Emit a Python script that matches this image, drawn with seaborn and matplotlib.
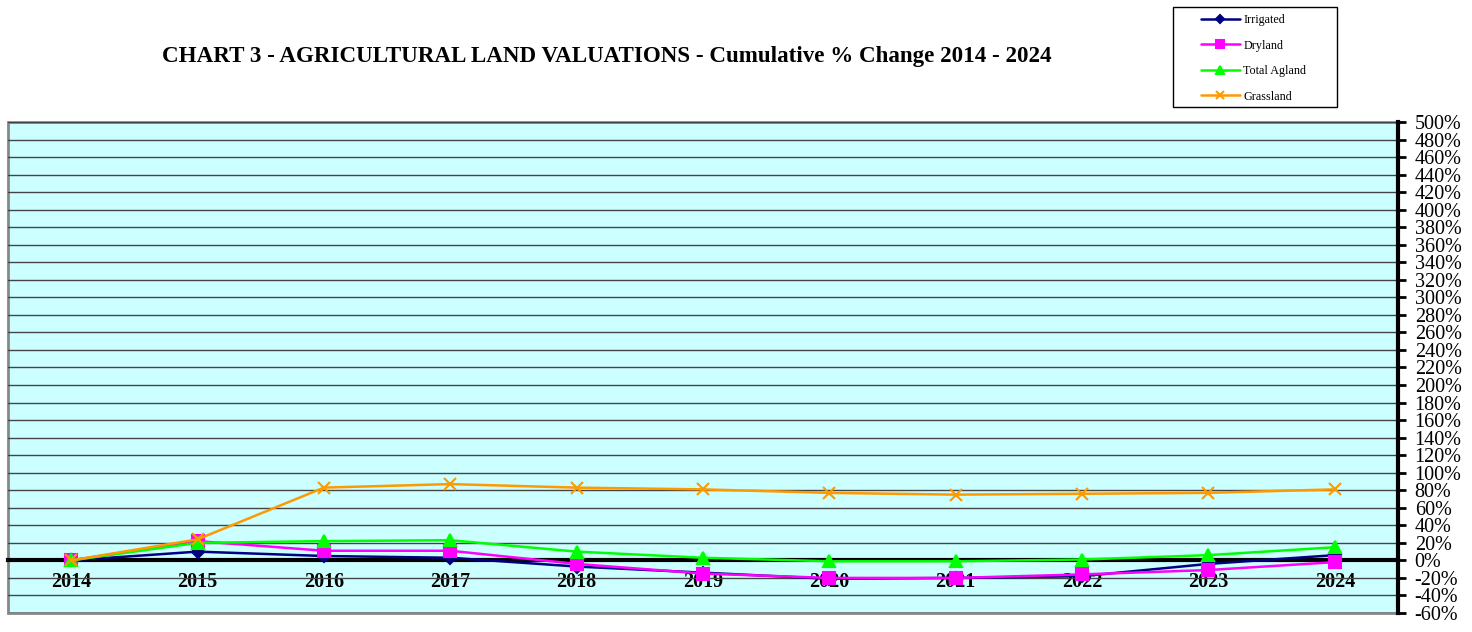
import matplotlib
matplotlib.use("Agg")
import matplotlib.pyplot as plt
import matplotlib.ticker as mticker
from matplotlib.patches import Rectangle
import seaborn as sns
import numpy as np
import pandas as pd

years = ["2014", "2015", "2016", "2017", "2018", "2019", "2020", "2021", "2022", "2023", "2024"]
irrigated = [0, 10, 5, 3, -7, -14, -21, -20, -18, -4, 6]
dryland = [0, 22, 11, 11, -4, -15, -20, -20, -16, -11, -2]
total_agland = [0, 20, 22, 23, 10, 3, -1, -1, 1, 6, 15]
grassland = [0, 24, 83, 87, 83, 81, 77, 75, 76, 77, 81]

series = {
    "Irrigated": irrigated,
    "Dryland": dryland,
    "Total Agland": total_agland,
    "Grassland": grassland,
}
colors = {"Irrigated": "#000080", "Dryland": "#FF00FF",
          "Total Agland": "#00FF00", "Grassland": "#FF9900"}
markers = {"Irrigated": "D", "Dryland": "s", "Total Agland": "^", "Grassland": "x"}
msizes = {"Irrigated": 6, "Dryland": 8, "Total Agland": 8, "Grassland": 8}

rows = []
for name, vals in series.items():
    for i, v in enumerate(vals):
        rows.append({"idx": i, "year": years[i], "pct": v, "series": name})
df = pd.DataFrame(rows)

sns.set_style("white")
plt.rcParams["font.family"] = ["Liberation Serif", "DejaVu Serif"]
plt.rcParams["text.color"] = "black"
plt.rcParams["xtick.color"] = "black"
plt.rcParams["ytick.color"] = "black"

fig = plt.figure(figsize=(14.72, 6.32), dpi=100)
ax = fig.add_axes([8 / 1472, 19 / 632, 1390 / 1472, 491 / 632])
ax.set_facecolor("#CCFFFF")
ax.patch.set_edgecolor("#888888")
ax.patch.set_linewidth(2)

for name in series:
    sub = df[df["series"] == name]
    sns.lineplot(data=sub, x="idx", y="pct", ax=ax, color=colors[name],
                 marker=markers[name], markersize=msizes[name],
                 markeredgecolor=colors[name], markeredgewidth=1.5,
                 linewidth=1.8, label=name, legend=False, zorder=3)

ax.set_xlim(-0.5, len(years) - 0.5)
ax.set_ylim(-60, 500)

# y axis on the right
ax.yaxis.tick_right()
ax.yaxis.set_major_locator(mticker.MultipleLocator(20))
ax.yaxis.set_major_formatter(mticker.FuncFormatter(lambda v, p: f"{int(v)}%"))
ax.tick_params(axis="y", direction="out", length=6, width=2, labelsize=14.5, pad=6)
ax.grid(axis="y", color="#444444", linewidth=1)
ax.set_axisbelow(True)

# x axis crossing at zero
ax.spines["bottom"].set_position(("data", 0))
ax.spines["bottom"].set_linewidth(3)
ax.spines["bottom"].set_color("black")
ax.spines["right"].set_linewidth(3)
ax.spines["right"].set_color("black")
ax.spines["top"].set_visible(False)
ax.spines["left"].set_visible(False)
ax.set_xticks(range(len(years)))
ax.set_xticklabels(years, fontweight="bold", fontsize=14.5)
ax.set_xticks(np.arange(-0.5, len(years), 1), minor=True)
ax.tick_params(axis="x", which="major", length=0, pad=8)
ax.tick_params(axis="x", which="minor", direction="out", length=5, width=2.5)
ax.set_xlabel("")
ax.set_ylabel("")

fig.text(0.4125, 0.91, "CHART 3 - AGRICULTURAL LAND VALUATIONS - Cumulative % Change 2014 - 2024",
         ha="center", va="center", fontsize=16.6, fontweight="bold")

# legend box
fig.patches.append(Rectangle((1173 / 1472, 1 - 107 / 632), 164 / 1472, 100 / 632,
                             transform=fig.transFigure, fill=False,
                             edgecolor="black", linewidth=1))
handles, labels = ax.get_legend_handles_labels()
leg = fig.legend(handles, labels, loc="upper left",
                 bbox_to_anchor=(1201 / 1472, 1 - 14 / 632), fontsize=8.7,
                 frameon=False, handlelength=3.2, labelspacing=1.12,
                 borderpad=0, handletextpad=0.3, borderaxespad=0, markerscale=0.7)

fig.savefig("out.png", dpi=100)
